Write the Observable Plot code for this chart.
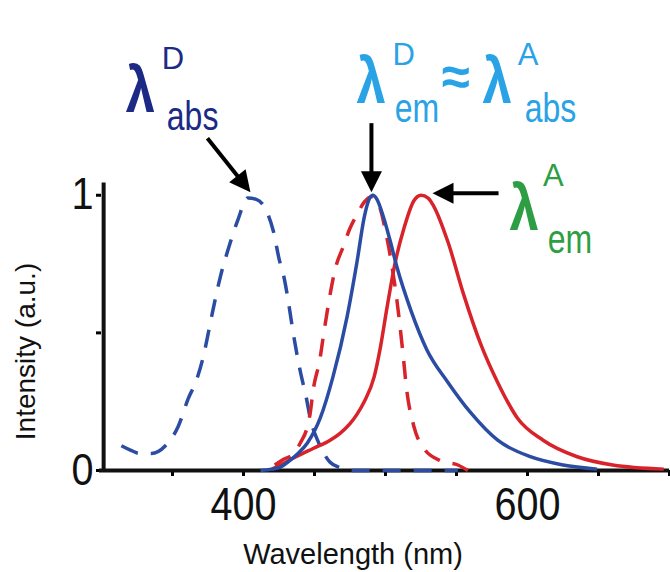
<!DOCTYPE html>
<html><head><meta charset="utf-8">
<script src="https://cdn.jsdelivr.net/npm/d3@7"></script>
<script src="https://cdn.jsdelivr.net/npm/@observablehq/plot@0.6"></script>
<style>
body{margin:0;background:#fff;}
#chart svg{display:block;}
</style></head><body><div id="chart"></div>
<script>
// Donor absorption (blue dashed)
const donorAbsNm = [314,320,327,335,345,354,361,367,372,376,380,384,389,396,403,409,416,421,425,429,432,435,440,444,447,453,461,468,476,551];
const donorAbsI  = [0.09,0.075,0.062,0.062,0.09,0.16,0.26,0.33,0.42,0.52,0.62,0.71,0.80,0.91,0.99,0.985,0.945,0.87,0.77,0.69,0.60,0.50,0.36,0.27,0.19,0.10,0.03,0.01,0,0];
// Donor emission (blue solid)
const donorEmNm = [412,420,426,431,438,445,454,463,473,480,485,488,491,494,498,503,508,518,529,544,560,579,602,625,649];
const donorEmI  = [0,0.005,0.012,0.03,0.06,0.10,0.19,0.34,0.56,0.76,0.92,0.98,1.0,0.985,0.93,0.84,0.74,0.58,0.44,0.32,0.21,0.11,0.05,0.02,0.005];
// Acceptor absorption (red dashed)
const accAbsNm = [422,428,435,440,445,447,449,454,456,460,465,470,475,480,485,490,496,500,504,508,512,515,520,527,539,551,558];
const accAbsI  = [0.02,0.04,0.06,0.10,0.16,0.21,0.29,0.41,0.48,0.61,0.74,0.81,0.88,0.93,0.975,0.995,0.955,0.87,0.76,0.62,0.44,0.29,0.16,0.08,0.035,0.02,0];
// Acceptor emission (red solid)
const accEmNm = [420,426,437,449,461,468,475,480,485,492,496.5,501,507,513,520,525,530,534,544,555,567,579,593,611,635,660,696];
const accEmI  = [0.005,0.02,0.05,0.08,0.11,0.135,0.17,0.205,0.25,0.34,0.45,0.59,0.76,0.88,0.98,1.0,0.99,0.96,0.83,0.64,0.46,0.32,0.19,0.11,0.05,0.02,0.005];

const xTicks = [350,400,450,500,550,600,650,700];
const xTickLabels = [400,600];
const yTicks = [0,0.5,1];
const yTickLabels = [0,1];
const xTitle = "Wavelength (nm)";
const yTitle = "Intensity (a.u.)";

// Annotation labels (text pieces, positions in nm / intensity units)
const labelText  = ["λ","D","abs", "λ","D","em","≈","λ","A","abs", "λ","A","em"];
const labelNm    = [317,342.5,346, 479.6,505,506.5,539.6,568.3,593.2,598, 587.3,611,614.3];
const labelI     = [1.302,1.457,1.236, 1.335,1.472,1.265,1.365,1.335,1.472,1.265, 0.873,1.035,0.789];
const labelRole  = ["main","sup","sub", "main","sup","sub","approx","main","sup","sub", "main","sup","sub"];
const labelColor = ["#1c2a86","#1c2a86","#1c2a86", "#2aa3e6","#2aa3e6","#2aa3e6","#2aa3e6","#2aa3e6","#2aa3e6","#2aa3e6", "#2e9e44","#2e9e44","#2e9e44"];

// Arrows (tail -> tip, in nm / intensity units), head rotation in degrees
const arrowX1 = [374.6, 490.1, 579.6];
const arrowY1 = [1.207, 1.262, 1.007];
const arrowX2 = [404.9, 490.1, 533.1];
const arrowY2 = [1.011, 1.011, 1.007];
const arrowRot = [141.5, 180, 270];

const series = [
  {name: "donorAbs", nm: donorAbsNm, I: donorAbsI, color: "#2b4ca3", dash: "18,13"},
  {name: "accAbs", nm: accAbsNm, I: accAbsI, color: "#d8232b", dash: "18,13"},
  {name: "accEm", nm: accEmNm, I: accEmI, color: "#d8232b", dash: null},
  {name: "donorEm", nm: donorEmNm, I: donorEmI, color: "#2b4ca3", dash: null}
];
const rowsOf = s => s.nm.map((x, i) => ({x, y: s.I[i]}));

const labels = labelText.map((t, i) => ({t, x: labelNm[i], y: labelI[i], role: labelRole[i], color: labelColor[i]}));
const arrows = arrowX1.map((x1, i) => ({x1, y1: arrowY1[i], x2: arrowX2[i], y2: arrowY2[i], r: arrowRot[i]}));

const headSymbol = {draw(ctx) { ctx.moveTo(0, 0); ctx.lineTo(-10.5, 21); ctx.lineTo(10.5, 21); ctx.closePath(); }};

const font = "'Liberation Sans', Arial, Helvetica, sans-serif";

const chart = Plot.plot({
  width: 670, height: 572,
  marginLeft: 101, marginRight: 1, marginTop: 181, marginBottom: 102,
  style: {fontFamily: font, background: "transparent", overflow: "visible"},
  x: {domain: [300, 700]},
  y: {domain: [0, 1.05]},
  marks: [
    Plot.axisX({ticks: xTicks, tickSize: 6, tickPadding: 11, strokeWidth: 3, fontSize: 46, fill: "#111",
      tickFormat: d => xTickLabels.includes(d) ? String(d) : "", label: null}),
    Plot.axisY({ticks: yTicks, tickSize: 5, tickPadding: 3, strokeWidth: 3, fontSize: 44, fill: "#111",
      tickFormat: d => yTickLabels.includes(d) ? String(d) : "", label: null}),
    Plot.ruleX([301.5], {y1: 0, y2: 1.045, strokeWidth: 4, stroke: "#111"}),
    Plot.ruleY([0], {x1: 298.6, x2: 700, strokeWidth: 4, stroke: "#111"}),
    ...series.map(s => Plot.line(rowsOf(s), {x: "x", y: "y", stroke: s.color, strokeWidth: 3.5,
      strokeDasharray: s.dash ?? undefined, curve: "monotone-x", strokeLinecap: "butt"})),
    Plot.arrow(arrows, {x1: "x1", y1: "y1", x2: "x2", y2: "y2", headLength: 0, insetEnd: 15,
      strokeWidth: 4, stroke: "#000", strokeLinecap: "butt"}),
    Plot.dot(arrows, {x: "x2", y: "y2", rotate: "r", symbol: headSymbol, r: 10, fill: "#000", stroke: "none"}),
    Plot.text(labels.filter(d => d.role === "main"), {x: "x", y: "y", text: "t", fill: "color",
      fontSize: 64, fontWeight: "bold", textAnchor: "start", lineAnchor: "bottom"}),
    Plot.text(labels.filter(d => d.role === "sup"), {x: "x", y: "y", text: "t", fill: "color",
      fontSize: 31, textAnchor: "start", lineAnchor: "bottom"}),
    Plot.text(labels.filter(d => d.role === "sub"), {x: "x", y: "y", text: "t", fill: "color",
      fontSize: 40, textAnchor: "start", lineAnchor: "bottom"}),
    Plot.text(labels.filter(d => d.role === "approx"), {x: "x", y: "y", text: "t", fill: "color",
      fontSize: 54, fontWeight: "bold", textAnchor: "start", lineAnchor: "bottom"}),
    Plot.text([xTitle], {frameAnchor: "bottom", textAnchor: "middle", dx: -32.5, dy: 93, lineAnchor: "bottom", fontSize: 29, fill: "#111"}),
    Plot.text([yTitle], {frameAnchor: "left", textAnchor: "middle", dx: -67, dy: 25.5, rotate: -90, lineAnchor: "bottom", fontSize: 28, fill: "#111"})
  ]
});

document.getElementById("chart").appendChild(chart);

// Horizontal condensing of some glyph runs, as in the reference figure
const condense = {"abs": 0.8, "em": 0.8, "λ": 0.82, "≈": 0.95, "400": 0.86, "600": 0.86, "0": 0.9, "1": 0.9};
chart.querySelectorAll("text").forEach(t => {
  const s = t.textContent;
  if (Object.prototype.hasOwnProperty.call(condense, s)) {
    const w = t.getComputedTextLength();
    if (w > 0) {
      t.setAttribute("textLength", (w * condense[s]).toFixed(2));
      t.setAttribute("lengthAdjust", "spacingAndGlyphs");
    }
  }
});
</script>
</body></html>
